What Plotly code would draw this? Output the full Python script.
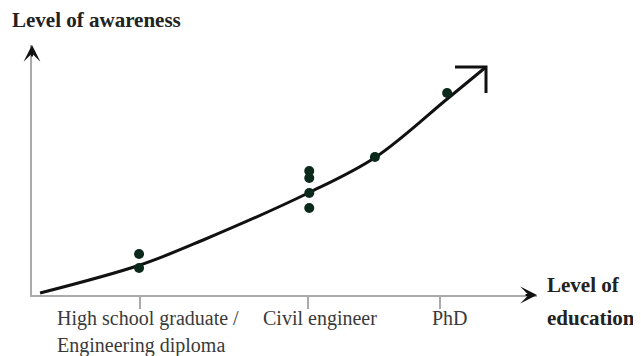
import plotly.graph_objects as go

# ---- data (abstract 0-10 scales) ----
categories = ["High school graduate /<br>Engineering diploma", "Civil engineer", "PhD"]
category_pos = [2.14, 5.47, 8.08]

# survey points
point_x = [2.12, 2.12, 5.49, 5.49, 5.49, 5.49, 6.79, 8.22]
point_y = [1.64, 1.08, 4.96, 4.68, 4.08, 3.48, 5.52, 8.08]

# trend curve
curve_x = [0.16, 2.14, 3.39, 5.47, 6.81, 8.22, 8.99]
curve_y = [0.08, 1.20, 2.20, 4.08, 5.52, 7.84, 9.12]

x_title = ["Level of", "education"]
y_title = "Level of awareness"

# ---- figure ----
# page body has an 8px margin, so the figure is drawn 8px in from the window edge
W, H = 633, 348
ml, mr, mt, mb = 24, 104, 37, 61
pw, ph = W - ml - mr, H - mt - mb
ux = pw / 10.0  # px per x unit
uy = ph / 10.0  # px per y unit

def dx(px):
    return px / ux

def dy(px):
    return px / uy

# convert a window pixel position to paper coordinates
def paper_x(px):
    return (px - 32) / pw

def paper_y(py):
    return (295 - py) / ph

SERIF = "Liberation Serif, Times New Roman, DejaVu Serif, serif"

fig = go.Figure()

fig.add_trace(go.Scatter(
    x=curve_x, y=curve_y, mode="lines",
    line=dict(color="#111111", width=3, shape="spline", smoothing=1.0),
    hoverinfo="skip", cliponaxis=False,
))

# open arrowhead at the end of the curve
tx, ty = curve_x[-1], curve_y[-1]
fig.add_trace(go.Scatter(
    x=[tx - dx(31), tx, tx], y=[ty, ty, ty - dy(26)], mode="lines",
    line=dict(color="#111111", width=3), hoverinfo="skip", cliponaxis=False,
))

fig.add_trace(go.Scatter(
    x=point_x, y=point_y, mode="markers",
    marker=dict(color="#0c2a1c", size=10),
    cliponaxis=False,
))

annotations = []
# axis arrowheads
annotations.append(dict(x=0, y=1, xref="paper", yref="paper", ax=0, ay=13,
                        showarrow=True, arrowhead=3, arrowwidth=2, arrowsize=1.4,
                        arrowcolor="#111111", text="", standoff=0))
annotations.append(dict(x=1, y=0, xref="paper", yref="paper", ax=-13, ay=0,
                        showarrow=True, arrowhead=3, arrowwidth=2, arrowsize=1.4,
                        arrowcolor="#111111", text="", standoff=0))

lab_font = dict(family=SERIF, size=20, color="#3a3a3a")
lab_left = [55, 261, 430]
for name, lx in zip(categories, lab_left):
    lines = name.split("<br>")
    for i, ln in enumerate(lines):
        annotations.append(dict(x=paper_x(lx), y=paper_y(318 + 27 * i), xref="paper", yref="paper",
                                text=ln, showarrow=False, xanchor="left", yanchor="middle",
                                font=lab_font))

title_font = dict(family=SERIF, size=21, color="#222222")
annotations.append(dict(x=paper_x(10), y=paper_y(20), xref="paper", yref="paper",
                        text="<b>" + y_title + "</b>",
                        showarrow=False, xanchor="left", yanchor="middle", font=title_font))
for i, ln in enumerate(x_title):
    annotations.append(dict(x=paper_x(545), y=paper_y(285 + 33 * i), xref="paper", yref="paper",
                            text="<b>" + ln + "</b>", showarrow=False, xanchor="left",
                            yanchor="middle", font=title_font))

fig.update_layout(
    width=W, height=H,
    margin=dict(l=ml, r=mr, t=mt, b=mb, pad=0),
    paper_bgcolor="white", plot_bgcolor="white",
    showlegend=False,
    annotations=annotations,
    xaxis=dict(range=[0, 10], showgrid=False, zeroline=False, showline=True,
               linecolor="#aaaaaa", linewidth=2, ticks="outside", ticklen=12,
               tickcolor="#aaaaaa", tickwidth=1.5, tickvals=category_pos,
               showticklabels=False, fixedrange=True),
    yaxis=dict(range=[0, 10], showgrid=False, zeroline=False, showline=True,
               linecolor="#aaaaaa", linewidth=2, ticks="", showticklabels=False,
               fixedrange=True),
)

fig.write_html("out.html")
